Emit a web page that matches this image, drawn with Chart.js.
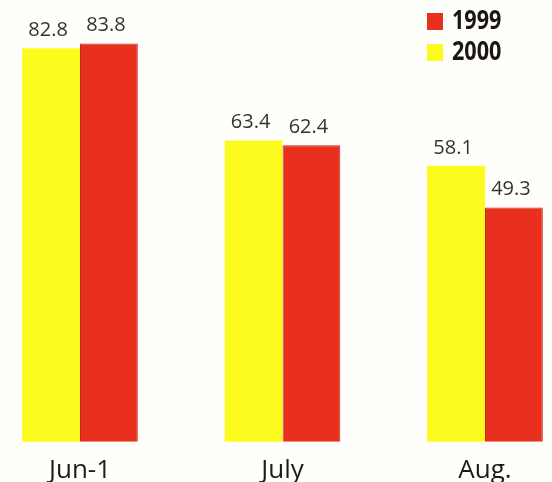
<!DOCTYPE html>
<html>
<head>
<meta charset="utf-8">
<script src="https://cdn.jsdelivr.net/npm/chart.js@4.4.0/dist/chart.umd.min.js"></script>
<style>
  html, body { margin: 0; padding: 0; background: #fefefb; }
  #wrap { width: 552px; height: 482px; position: relative; }
</style>
</head>
<body>
<div id="wrap"><canvas id="chart" width="552" height="482"></canvas></div>
<script>
const months = ["Jun-1", "July", "Aug."];
const values2000 = [82.8, 63.4, 58.1];
const values1999 = [83.8, 62.4, 49.3];

const yellow = "#fdfa1e";
const red = "#e9301f";

// value labels above each bar
const barLabels = {
    id: "barLabels",
    afterDatasetsDraw(chart) {
        const ctx = chart.ctx;
        ctx.save();
        ctx.font = "20px 'Open Sans', sans-serif";
        ctx.fillStyle = "#333";
        ctx.textAlign = "center";
        ctx.textBaseline = "alphabetic";
        chart.data.datasets.forEach((ds, i) => {
            chart.getDatasetMeta(i).data.forEach((bar, j) => {
                ctx.fillText(ds.data[j].toFixed(1), bar.x - 3, bar.y - 12);
            });
        });
        ctx.restore();
    }
};

// legend in the top right corner, 1999 first, condensed bold text
const cornerLegend = {
    id: "cornerLegend",
    afterDraw(chart) {
        const ctx = chart.ctx;
        const items = chart.data.datasets.slice().reverse();
        ctx.save();
        ctx.font = "bold 26px 'Open Sans', sans-serif";
        ctx.textBaseline = "middle";
        items.forEach((ds, i) => {
            const y = 21 + i * 31;
            ctx.fillStyle = ds.backgroundColor;
            ctx.fillRect(427, y - 8, 16, 17);
            ctx.fillStyle = "#1c1416";
            ctx.save();
            ctx.translate(452, y + 1);
            ctx.scale(0.83, 1);
            ctx.fillText(ds.label, 0, 0);
            ctx.restore();
        });
        ctx.restore();
    }
};

new Chart(document.getElementById("chart"), {
    type: "bar",
    data: {
        labels: months,
        datasets: [
            {
                label: "2000",
                data: values2000,
                backgroundColor: yellow,
                borderWidth: 0,
                clip: false
            },
            {
                label: "1999",
                data: values1999,
                backgroundColor: red,
                borderColor: "#c42a1f",
                borderWidth: 1,
                clip: false
            }
        ]
    },
    options: {
        responsive: false,
        animation: false,
        layout: { padding: { left: 80, right: 67, top: 14, bottom: -17 } },
        datasets: {
            bar: { categoryPercentage: 0.571, barPercentage: 1.0 }
        },
        scales: {
            x: {
                offset: false,
                grid: { display: false, drawTicks: false },
                border: { display: false },
                ticks: {
                    color: "#1c1c1c",
                    padding: 13,
                    font: { family: "'Open Sans', sans-serif", size: 26 }
                }
            },
            y: {
                display: false,
                min: 0,
                max: 90
            }
        },
        plugins: {
            legend: { display: false },
            tooltip: { enabled: false }
        }
    },
    plugins: [barLabels, cornerLegend]
});
</script>
</body>
</html>
